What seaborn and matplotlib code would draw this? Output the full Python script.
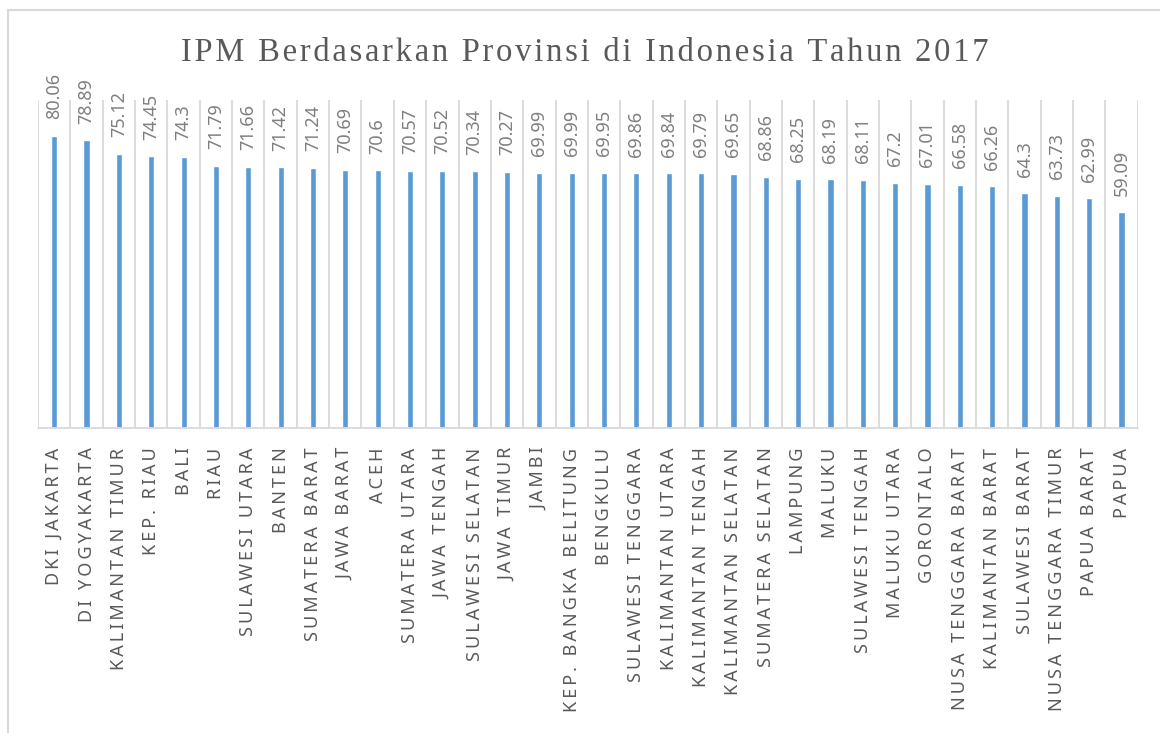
import matplotlib
matplotlib.use("Agg")
import matplotlib.pyplot as plt
from matplotlib.patches import Rectangle
from matplotlib.ticker import FixedLocator
import seaborn as sns
import pandas as pd
import numpy as np

# ── Data ──────────────────────────────────────────────────────
provinces = [
    "DKI JAKARTA", "DI YOGYAKARTA", "KALIMANTAN TIMUR", "KEP. RIAU", "BALI",
    "RIAU", "SULAWESI UTARA", "BANTEN", "SUMATERA BARAT", "JAWA BARAT",
    "ACEH", "SUMATERA UTARA", "JAWA TENGAH", "SULAWESI SELATAN", "JAWA TIMUR",
    "JAMBI", "KEP. BANGKA BELITUNG", "BENGKULU", "SULAWESI TENGGARA",
    "KALIMANTAN UTARA", "KALIMANTAN TENGAH", "KALIMANTAN SELATAN",
    "SUMATERA SELATAN", "LAMPUNG", "MALUKU", "SULAWESI TENGAH", "MALUKU UTARA",
    "GORONTALO", "NUSA TENGGARA BARAT", "KALIMANTAN BARAT", "SULAWESI BARAT",
    "NUSA TENGGARA TIMUR", "PAPUA BARAT", "PAPUA",
]
ipm = [
    80.06, 78.89, 75.12, 74.45, 74.3, 71.79, 71.66, 71.42, 71.24, 70.69,
    70.6, 70.57, 70.52, 70.34, 70.27, 69.99, 69.99, 69.95, 69.86, 69.84,
    69.79, 69.65, 68.86, 68.25, 68.19, 68.11, 67.2, 67.01, 66.58, 66.26,
    64.3, 63.73, 62.99, 59.09,
]
title = "IPM Berdasarkan Provinsi di Indonesia Tahun 2017"

df = pd.DataFrame({"provinsi": provinces, "ipm": ipm})

BAR = "#5B9BD5"
TEXT = "#595959"
GRID = "#D9D9D9"


def spaced(s, sep="\u2009"):
    # fake letter spacing with thin/hair spaces
    return sep.join(s)


sns.set_theme(style="white")
plt.rcParams["font.family"] = ["Noto Sans", "DejaVu Sans"]

fig = plt.figure(figsize=(11.6, 7.33), dpi=100)
ax = fig.add_axes([0.0328, 0.416, 0.948, 0.448])

sns.barplot(data=df, x="provinsi", y="ipm", color=BAR, saturation=1,
            width=0.19, ax=ax)

ax.set_ylim(0, 90)
ax.set_xlim(-0.5, len(provinces) - 0.5)

# value labels
ax.bar_label(ax.containers[0], labels=[str(v) for v in ipm], rotation=90,
             padding=12, fontsize=13, color="#7F7F7F")

# category gridlines
ax.xaxis.set_minor_locator(FixedLocator(np.arange(-0.5, len(provinces), 1)))
ax.grid(which="minor", axis="x", color=GRID, linewidth=1.3)
ax.grid(which="major", visible=False)
ax.tick_params(which="both", length=0)
ax.set_yticks([])

ax.set_xticks(range(len(provinces)))
ax.set_xticklabels([spaced(p) for p in provinces], rotation=90,
                   fontsize=13, color=TEXT)
ax.tick_params(axis="x", pad=14)

for side in ["top", "left", "right"]:
    ax.spines[side].set_visible(False)
ax.spines["bottom"].set_color(GRID)
ax.spines["bottom"].set_linewidth(1.3)
ax.set_xlabel("")
ax.set_ylabel("")

fig.text(0.504, 0.928, spaced(title, "\u200a"), ha="center", va="center",
         fontsize=23.5, color=TEXT, family=["Liberation Serif", "DejaVu Serif"])

# chart frame
fig.patches.append(Rectangle((8 / 1160, -0.1), 1.2, (733 - 10) / 733 + 0.1,
                             transform=fig.transFigure, fill=False,
                             edgecolor=GRID, linewidth=1.5))

fig.savefig("out.png", dpi=100)
